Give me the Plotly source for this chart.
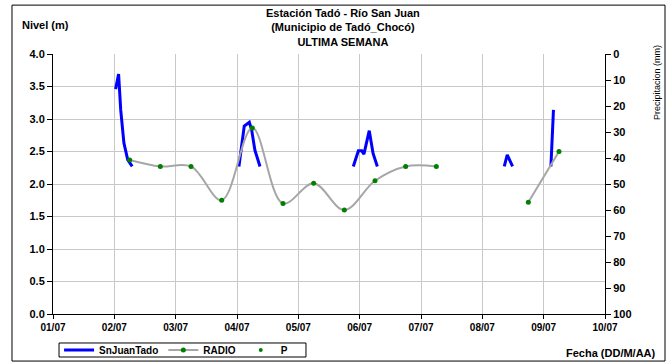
import plotly.graph_objects as go

# SnJuanTado level (m) - segments separated by None
sj_time = [
    "2023-07-02 00:30", "2023-07-02 01:40", "2023-07-02 02:30", "2023-07-02 03:45",
    "2023-07-02 05:15", "2023-07-02 07:00", None,
    "2023-07-04 00:45", "2023-07-04 02:50", "2023-07-04 04:50", "2023-07-04 05:45",
    "2023-07-04 07:00", "2023-07-04 09:00", None,
    "2023-07-05 21:30", "2023-07-05 23:30", "2023-07-06 00:50", "2023-07-06 01:40",
    "2023-07-06 03:45", "2023-07-06 05:15", "2023-07-06 06:55", None,
    "2023-07-08 08:35", "2023-07-08 09:45", "2023-07-08 11:50", None,
    "2023-07-09 02:50", "2023-07-09 03:50",
]
sj_level = [
    3.46, 3.69, 3.14, 2.63, 2.37, 2.27, None,
    2.27, 2.89, 2.95, 2.83, 2.52, 2.27, None,
    2.27, 2.51, 2.51, 2.46, 2.82, 2.47, 2.27, None,
    2.27, 2.45, 2.27, None,
    2.27, 3.14,
]

# RADIO level (m)
radio_time = [
    "2023-07-02 06:00", "2023-07-02 18:00", "2023-07-03 06:00", "2023-07-03 18:00",
    "2023-07-04 06:00", "2023-07-04 18:00", "2023-07-05 06:00", "2023-07-05 18:00",
    "2023-07-06 06:00", "2023-07-06 18:00", "2023-07-07 06:00", "2023-07-07 18:00",
    "2023-07-08 06:00", "2023-07-08 18:00", "2023-07-09 06:00",
]
radio_level = [2.37, 2.27, 2.27, 1.75, 2.86, 1.70, 2.01, 1.60, 2.05, 2.27, 2.27,
               None, None, 1.72, 2.50]

# Precipitation P (mm) - no values recorded
p_time = ["2023-07-02 06:00"]
p_value = [None]

x_ticks = ["2023-07-%02d" % d for d in range(1, 11)]
x_ticklabels = ["%02d/07" % d for d in range(1, 11)]
y_ticks = [i * 0.5 for i in range(9)]
y2_ticks = list(range(0, 101, 10))

FONT = "Liberation Sans, Arial, sans-serif"

fig = go.Figure()
fig.add_trace(go.Scatter(
    x=sj_time, y=sj_level, name="SnJuanTado", mode="lines",
    line=dict(color="#0000FF", width=3), connectgaps=False,
))
fig.add_trace(go.Scatter(
    x=radio_time, y=radio_level, name="RADIO", mode="lines+markers",
    line=dict(color="#A6A6A6", width=2, shape="spline", smoothing=1),
    marker=dict(color="#008000", size=5), connectgaps=False,
))
fig.add_trace(go.Scatter(
    x=p_time, y=p_value, name="P", mode="markers", yaxis="y2",
    marker=dict(color="#008000", size=4),
))

fig.update_layout(
    width=671, height=362,
    margin=dict(l=53, r=66, t=54, b=48, autoexpand=False),
    paper_bgcolor="white", plot_bgcolor="white",
    font=dict(family=FONT, size=11, color="black"),
    showlegend=True,
    legend=dict(
        orientation="h", x=0.011, y=-0.1385, xanchor="left", yanchor="middle",
        bgcolor="rgba(0,0,0,0)", borderwidth=0,
        font=dict(family=FONT, size=10, color="black", weight="bold"),
        itemwidth=30, tracegroupgap=0,
    ),
    xaxis=dict(
        type="date", range=["2023-07-01", "2023-07-10"],
        tickvals=x_ticks, ticktext=x_ticklabels,
        showgrid=True, gridcolor="#C8C8C8", gridwidth=1,
        showline=True, linecolor="black", linewidth=1,
        ticks="outside", ticklen=4, tickcolor="black",
        tickfont=dict(family=FONT, size=10, weight="bold"),
        zeroline=False, automargin=False,
    ),
    yaxis=dict(
        range=[0, 4], tickvals=y_ticks, tickformat=".1f",
        showgrid=True, gridcolor="#C8C8C8", gridwidth=1,
        showline=True, linecolor="black", linewidth=1,
        ticks="outside", ticklen=5, tickcolor="black",
        tickfont=dict(family=FONT, size=11, weight="bold"),
        zeroline=False, automargin=False,
    ),
    yaxis2=dict(
        overlaying="y", side="right", range=[100, 0], tickvals=y2_ticks,
        showgrid=False, showline=True, linecolor="black", linewidth=1,
        ticks="outside", ticklen=5, tickcolor="black",
        tickfont=dict(family=FONT, size=11, weight="bold"),
        zeroline=False, automargin=False,
    ),
    shapes=[
        dict(type="rect", xref="paper", yref="paper",
             x0=-0.0743, x1=1.1087, y0=-0.181, y1=1.188,
             line=dict(color="black", width=1), fillcolor="rgba(0,0,0,0)", layer="below"),
        dict(type="rect", xref="paper", yref="paper",
             x0=0.0109, x1=0.4583, y0=-0.1654, y1=-0.1115,
             line=dict(color="black", width=1), fillcolor="rgba(0,0,0,0)", layer="below"),
    ],
    annotations=[
        dict(text="<b>Estación Tadó - Río San Juan<br>(Municipio de Tadó_Chocó)<br>ULTIMA SEMANA</b>",
             xref="paper", yref="paper", x=0.525, y=1.1, xanchor="center", yanchor="middle",
             showarrow=False, font=dict(family=FONT, size=11), align="center"),
        dict(text="<b>Nivel (m)</b>", xref="paper", yref="paper", x=-0.0598, y=1.1115,
             xanchor="left", yanchor="middle", showarrow=False, font=dict(family=FONT, size=11)),
        dict(text="Precipitacion (mm)", xref="paper", yref="paper", x=1.094, y=0.892,
             xanchor="center", yanchor="middle", textangle=-90, showarrow=False,
             font=dict(family=FONT, size=9)),
        dict(text="<b>Fecha (DD/M/AA)</b>", xref="paper", yref="paper", x=1.096, y=-0.15,
             xanchor="right", yanchor="middle", showarrow=False, font=dict(family=FONT, size=11)),
    ],
)

fig.write_html("out.html", config={"displayModeBar": False},
               post_script="document.body.style.margin='0';")
